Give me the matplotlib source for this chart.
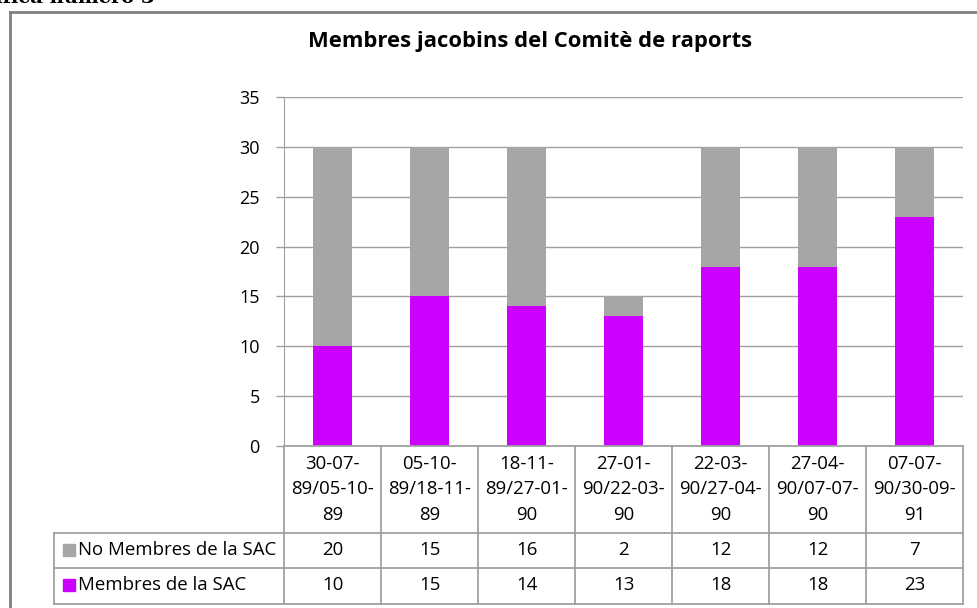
import matplotlib
matplotlib.use("Agg")
import matplotlib.pyplot as plt
from matplotlib.lines import Line2D
from matplotlib.patches import Rectangle

categories = ["30-07-\n89/05-10-\n89", "05-10-\n89/18-11-\n89", "18-11-\n89/27-01-\n90",
              "27-01-\n90/22-03-\n90", "22-03-\n90/27-04-\n90", "27-04-\n90/07-07-\n90",
              "07-07-\n90/30-09-\n91"]
membres_sac = [10, 15, 14, 13, 18, 18, 23]
no_membres_sac = [20, 15, 16, 2, 12, 12, 7]
series_labels = ["No Membres de la SAC", "Membres de la SAC"]
title = "Membres jacobins del Comitè de raports"
yticks = [0, 5, 10, 15, 20, 25, 30, 35]

GREY = "#A6A6A6"
PURPLE = "#CC00FF"
LINE = "#A0A0A0"
FONT = "Open Sans"
FS = 13.4

W, H = 978, 608
fig = plt.figure(figsize=(W / 100, H / 100), dpi=100)

def fx(px):
    return px / W

def fy(py):
    return 1 - py / H

ax_left, ax_right, ax_top, ax_bottom = 284, 963, 97, 446
ax = fig.add_axes([fx(ax_left), fy(ax_bottom), fx(ax_right - ax_left), (ax_bottom - ax_top) / H])
x = list(range(len(categories)))
ax.bar(x, membres_sac, width=0.4, color=PURPLE, zorder=3)
ax.bar(x, no_membres_sac, width=0.4, bottom=membres_sac, color=GREY, zorder=3)
ax.set_xlim(-0.5, len(categories) - 0.5)
ax.set_ylim(0, 35)
ax.set_yticks(yticks)
ax.set_yticklabels([str(v) for v in yticks], fontsize=13, fontfamily=FONT)
ax.set_xticks([])
ax.grid(axis="y", color=LINE, linewidth=1, zorder=0)
for s in ["top", "right", "bottom"]:
    ax.spines[s].set_visible(False)
ax.spines["left"].set_color(LINE)
ax.tick_params(axis="y", length=6, color=LINE, width=1, pad=11.5)

# Chart title
fig.text(fx(530), fy(42), title, ha="center", va="center", fontsize=15.8,
         fontweight="bold", fontfamily=FONT)

# Data table
col_w = (ax_right - ax_left) / len(categories)
lw = 1.3
row_lines = [446, 533, 568, 604]
legend_left = 54
for i in range(len(categories) + 1):
    xp = ax_left + i * col_w
    fig.add_artist(Line2D([fx(xp), fx(xp)], [fy(446), fy(604)], color=LINE, lw=lw))
fig.add_artist(Line2D([fx(legend_left), fx(legend_left)], [fy(533), fy(604)], color=LINE, lw=lw))
fig.add_artist(Line2D([fx(ax_left), fx(ax_right)], [fy(446), fy(446)], color=LINE, lw=lw))
for yp in row_lines[1:]:
    fig.add_artist(Line2D([fx(legend_left), fx(ax_right)], [fy(yp), fy(yp)], color=LINE, lw=lw))

for i, cat in enumerate(categories):
    cx = ax_left + (i + 0.5) * col_w
    for j, ln in enumerate(cat.split("\n")):
        fig.text(fx(cx), fy(464 + j * 25.5), ln, ha="center", va="center",
                 fontsize=FS, fontfamily=FONT)
    fig.text(fx(cx), fy(550), str(no_membres_sac[i]), ha="center", va="center",
             fontsize=FS, fontfamily=FONT)
    fig.text(fx(cx), fy(585), str(membres_sac[i]), ha="center", va="center",
             fontsize=FS, fontfamily=FONT)

for label, color, yc in [(series_labels[0], GREY, 550), (series_labels[1], PURPLE, 585)]:
    fig.add_artist(Rectangle((fx(63), fy(yc + 6)), fx(12), 12 / H, color=color,
                             transform=fig.transFigure))
    fig.text(fx(78), fy(yc), label, ha="left", va="center", fontsize=FS, fontfamily=FONT)

# Outer frame (clipped on right/bottom)
fig.add_artist(Line2D([fx(10), fx(10)], [fy(12), fy(608)], color="#808080", lw=2))
fig.add_artist(Line2D([fx(10), fx(978)], [fy(12), fy(12)], color="#808080", lw=2))

# Clipped caption at top-left
fig.text(fx(155), 1 + 2 / H, "Gràfica número 3", ha="right", va="center",
         fontsize=14, fontweight="bold", fontfamily="DejaVu Serif")

fig.savefig("out.png", dpi=100)
